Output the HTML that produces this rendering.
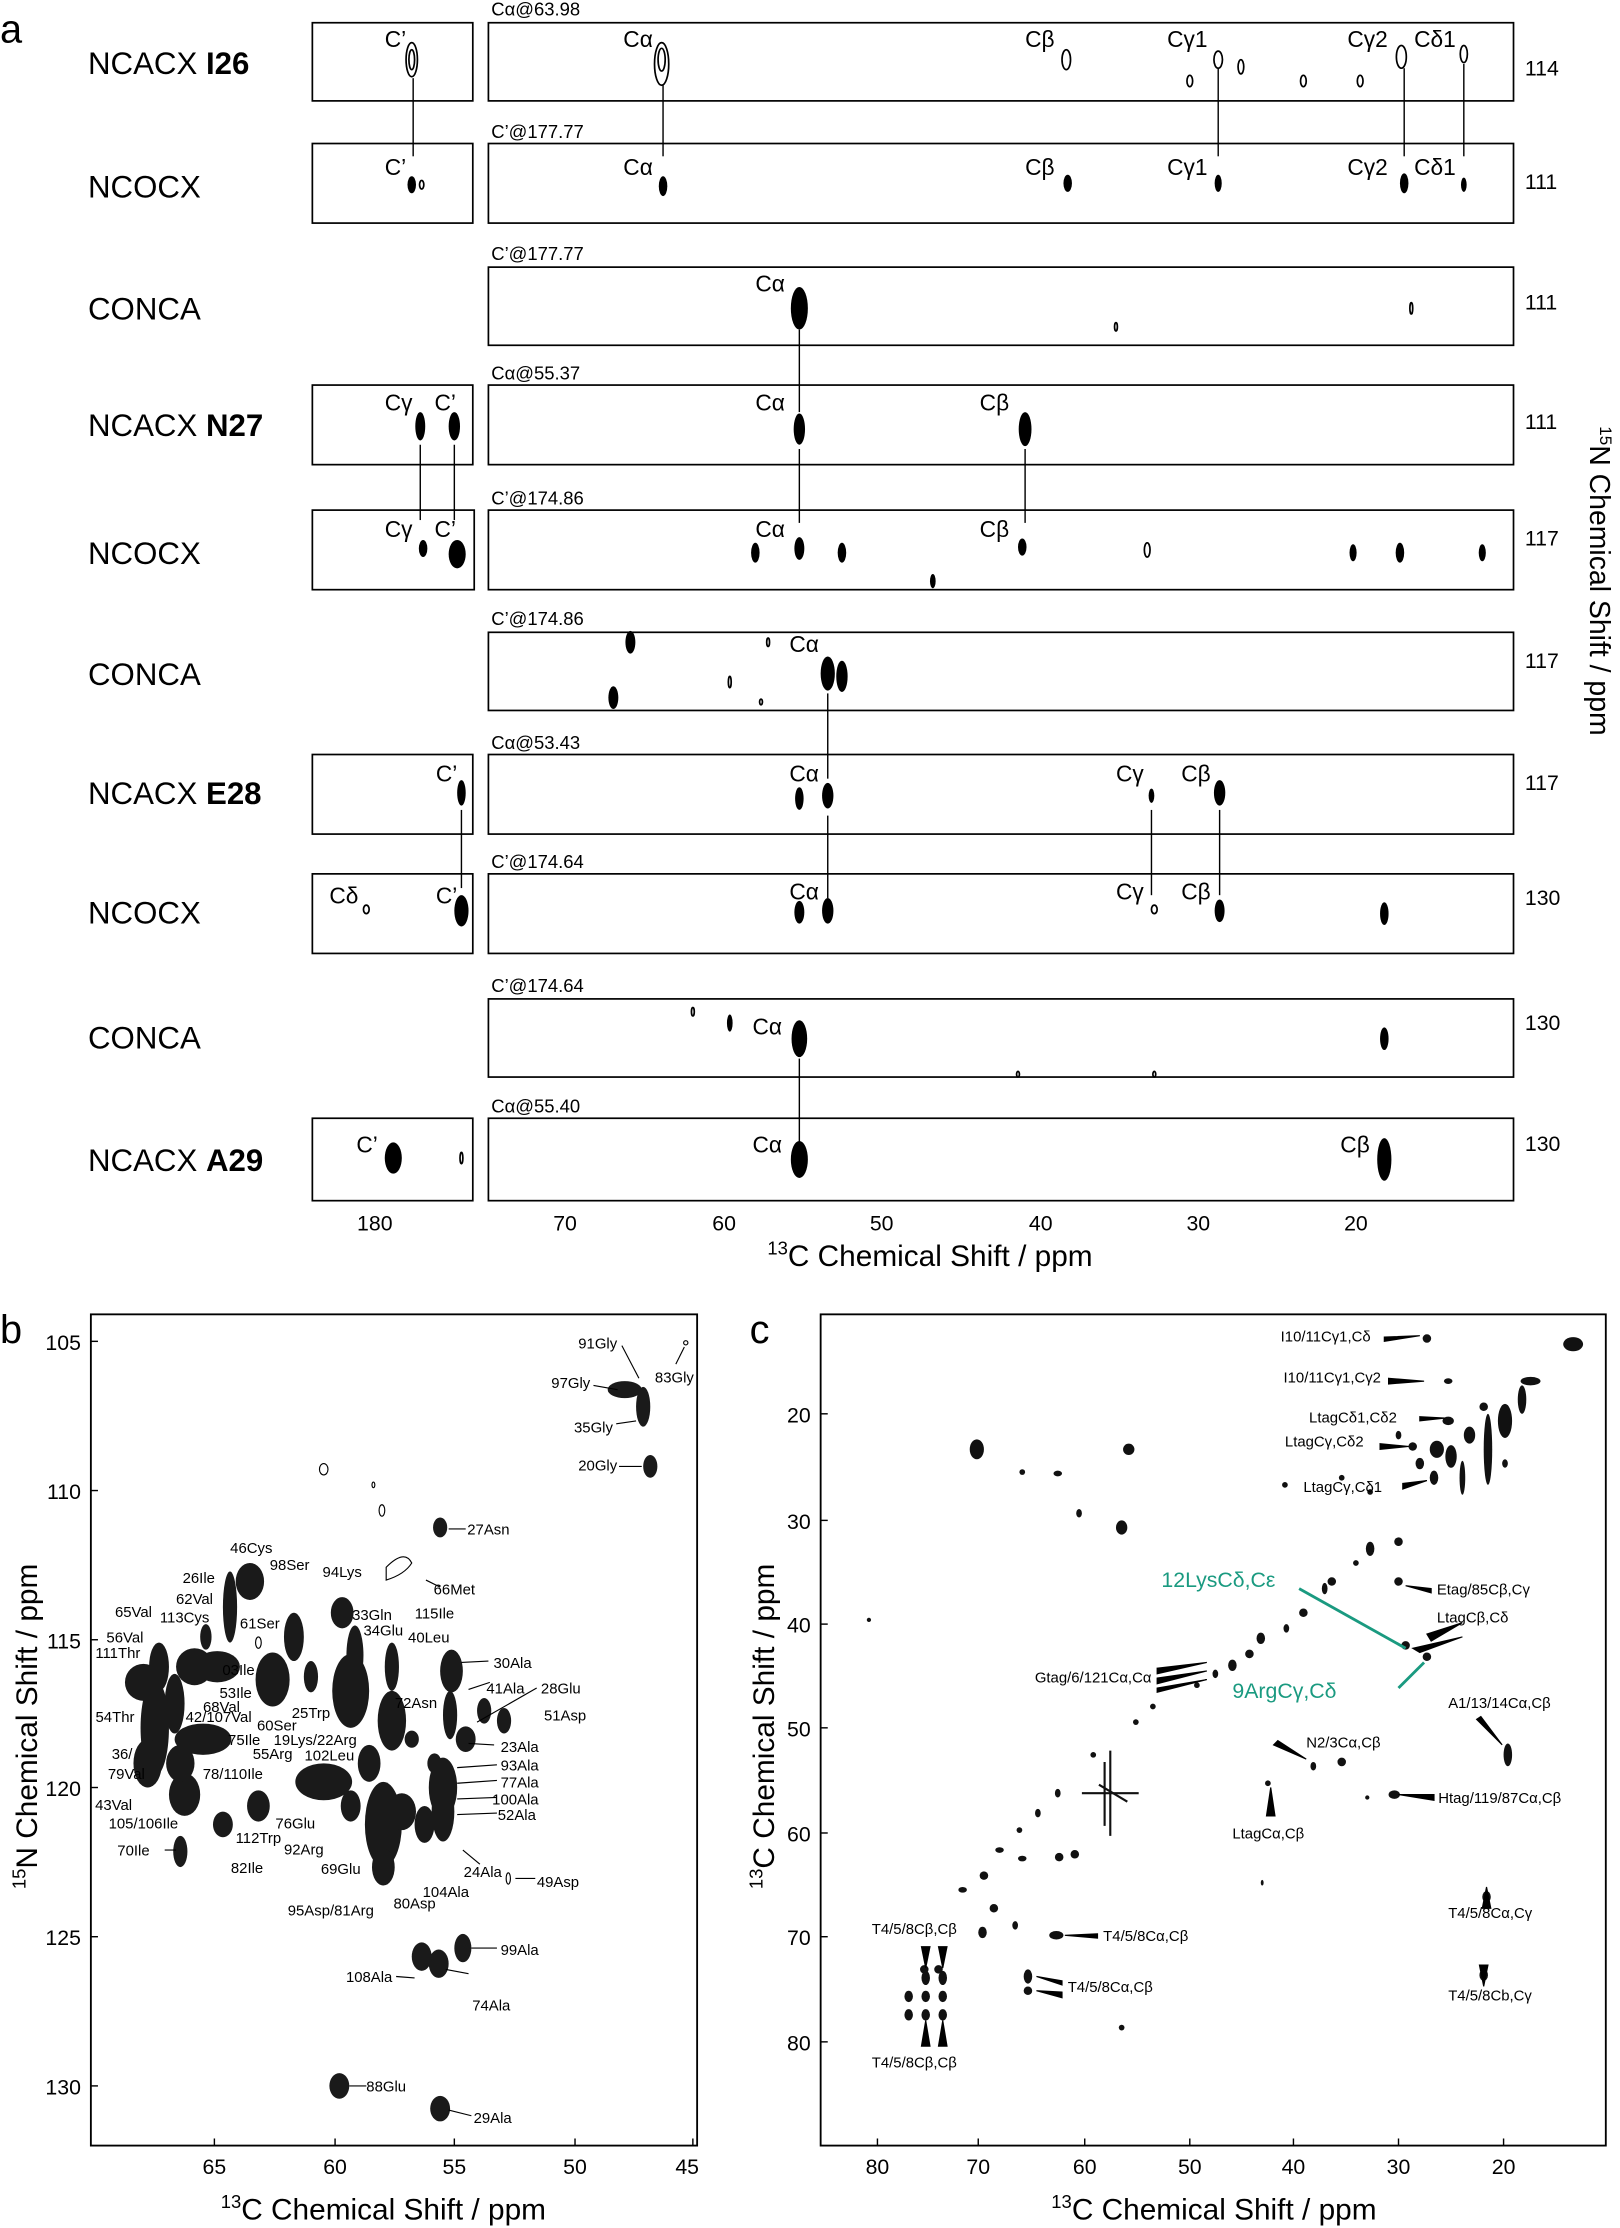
<!DOCTYPE html>
<html><head><meta charset="utf-8"><style>
html,body{margin:0;padding:0;background:#fff}
svg{display:block}
text{font-family:"Liberation Sans",sans-serif;fill:#000}
</style></head><body>
<svg width="1620" height="2228" viewBox="0 0 1141 1568" preserveAspectRatio="none" xmlns="http://www.w3.org/2000/svg">
<rect width="1141" height="1568" fill="#fff"/>
<!-- PANEL A -->
<text x="0" y="30" font-size="28">a</text>
<g font-size="22">
<text x="62" y="52">NCACX <tspan font-weight="bold">I26</tspan></text>
<text x="62" y="139">NCOCX</text>
<text x="62" y="225">CONCA</text>
<text x="62" y="307">NCACX <tspan font-weight="bold">N27</tspan></text>
<text x="62" y="397">NCOCX</text>
<text x="62" y="482">CONCA</text>
<text x="62" y="566">NCACX <tspan font-weight="bold">E28</tspan></text>
<text x="62" y="650">NCOCX</text>
<text x="62" y="738">CONCA</text>
<text x="62" y="824">NCACX <tspan font-weight="bold">A29</tspan></text>
</g>
<g fill="none" stroke="#000" stroke-width="1.2">
<rect x="220" y="16" width="113" height="55"/><rect x="344" y="16" width="722" height="55"/>
<rect x="220" y="101" width="113" height="56"/><rect x="344" y="101" width="722" height="56"/>
<rect x="344" y="188" width="722" height="55"/>
<rect x="220" y="271" width="113" height="56"/><rect x="344" y="271" width="722" height="56"/>
<rect x="220" y="359" width="114" height="56"/><rect x="344" y="359" width="722" height="56"/>
<rect x="344" y="445" width="722" height="55"/>
<rect x="220" y="531" width="113" height="56"/><rect x="344" y="531" width="722" height="56"/>
<rect x="220" y="615" width="113" height="56"/><rect x="344" y="615" width="722" height="56"/>
<rect x="344" y="703" width="722" height="55"/>
<rect x="220" y="787" width="113" height="58"/><rect x="344" y="787" width="722" height="58"/>
</g>
<g font-size="13">
<text x="346" y="11">Cα@63.98</text><text x="346" y="97">C’@177.77</text><text x="346" y="183">C’@177.77</text>
<text x="346" y="267">Cα@55.37</text><text x="346" y="355">C’@174.86</text><text x="346" y="440">C’@174.86</text>
<text x="346" y="527">Cα@53.43</text><text x="346" y="611">C’@174.64</text><text x="346" y="698">C’@174.64</text>
<text x="346" y="783">Cα@55.40</text>
</g>
<g font-size="15">
<text x="1074" y="53">114</text><text x="1074" y="133">111</text><text x="1074" y="218">111</text>
<text x="1074" y="302">111</text><text x="1074" y="384">117</text><text x="1074" y="470">117</text>
<text x="1074" y="556">117</text><text x="1074" y="637">130</text><text x="1074" y="725">130</text>
<text x="1074" y="810">130</text>
</g>
<text transform="translate(1120,300) rotate(90)" font-size="20"><tspan font-size="12" dy="-7">15</tspan><tspan dy="7">N Chemical Shift / ppm</tspan></text>
<g font-size="16">
<text x="271" y="33">C’</text><text x="439" y="33">Cα</text><text x="722" y="33">Cβ</text><text x="822" y="33">Cγ1</text><text x="949" y="33">Cγ2</text><text x="996" y="33">Cδ1</text>
<text x="271" y="123">C’</text><text x="439" y="123">Cα</text><text x="722" y="123">Cβ</text><text x="822" y="123">Cγ1</text><text x="949" y="123">Cγ2</text><text x="996" y="123">Cδ1</text>
<text x="532" y="205">Cα</text>
<text x="271" y="289">Cγ</text><text x="306" y="289">C’</text><text x="532" y="289">Cα</text><text x="690" y="289">Cβ</text>
<text x="271" y="378">Cγ</text><text x="306" y="378">C’</text><text x="532" y="378">Cα</text><text x="690" y="378">Cβ</text>
<text x="556" y="459">Cα</text>
<text x="307" y="550">C’</text><text x="556" y="550">Cα</text><text x="786" y="550">Cγ</text><text x="832" y="550">Cβ</text>
<text x="232" y="636">Cδ</text><text x="307" y="636">C’</text><text x="556" y="633">Cα</text><text x="786" y="633">Cγ</text><text x="832" y="633">Cβ</text>
<text x="530" y="728">Cα</text>
<text x="251" y="811">C’</text><text x="530" y="811">Cα</text><text x="944" y="811">Cβ</text>
</g>
<g stroke="#000" stroke-width="1">
<line x1="291" y1="55" x2="291" y2="110"/><line x1="467" y1="60" x2="467" y2="110"/>
<line x1="858" y1="48" x2="858" y2="110"/><line x1="989" y1="48" x2="989" y2="110"/><line x1="1031" y1="45" x2="1031" y2="110"/>
<line x1="563" y1="232" x2="563" y2="290"/>
<line x1="296" y1="313" x2="296" y2="366"/><line x1="320" y1="313" x2="320" y2="366"/>
<line x1="563" y1="316" x2="563" y2="368"/><line x1="722" y1="316" x2="722" y2="368"/>
<line x1="583" y1="488" x2="583" y2="548"/>
<line x1="325" y1="570" x2="325" y2="625"/><line x1="583" y1="574" x2="583" y2="632"/>
<line x1="811" y1="570" x2="811" y2="630"/><line x1="859" y1="570" x2="859" y2="630"/>
<line x1="563" y1="745" x2="563" y2="810"/>
</g>
<g fill="none" stroke="#000" stroke-width="1.2">
<ellipse cx="290" cy="42" rx="4" ry="12"/><ellipse cx="290" cy="42" rx="2" ry="7"/>
<ellipse cx="466" cy="45" rx="5" ry="15"/><ellipse cx="466" cy="42" rx="2.5" ry="8"/>
<ellipse cx="751" cy="42" rx="3" ry="7"/><ellipse cx="858" cy="42" rx="3" ry="6"/><ellipse cx="838" cy="57" rx="2" ry="4"/>
<ellipse cx="874" cy="47" rx="2" ry="5"/><ellipse cx="918" cy="57" rx="2" ry="4"/><ellipse cx="958" cy="57" rx="2" ry="4"/>
<ellipse cx="987" cy="40" rx="3.5" ry="8"/><ellipse cx="1031" cy="38" rx="2.5" ry="6"/>
<ellipse cx="297" cy="130" rx="1.5" ry="3"/>
<ellipse cx="786" cy="230" rx="1" ry="3"/><ellipse cx="994" cy="217" rx="1" ry="4"/>
<ellipse cx="808" cy="387" rx="2" ry="5"/><ellipse cx="541" cy="452" rx="1" ry="3"/><ellipse cx="514" cy="480" rx="1" ry="4"/><ellipse cx="536" cy="494" rx="1" ry="2"/>
<ellipse cx="258" cy="640" rx="2" ry="3"/><ellipse cx="813" cy="640" rx="2" ry="3"/><ellipse cx="488" cy="712" rx="1" ry="3"/>
<ellipse cx="325" cy="815" rx="1" ry="4"/><ellipse cx="717" cy="756" rx="1" ry="2"/><ellipse cx="813" cy="756" rx="1" ry="2"/>
</g>
<g fill="#000">
<ellipse cx="290" cy="130" rx="3" ry="6"/><ellipse cx="467" cy="131" rx="3" ry="7"/><ellipse cx="752" cy="129" rx="3" ry="6"/>
<ellipse cx="858" cy="129" rx="2.5" ry="6"/><ellipse cx="989" cy="129" rx="3" ry="7"/><ellipse cx="1031" cy="130" rx="2" ry="5"/>
<ellipse cx="563" cy="217" rx="6" ry="15"/>
<ellipse cx="296" cy="300" rx="3.5" ry="10"/><ellipse cx="320" cy="300" rx="4" ry="10"/>
<ellipse cx="563" cy="302" rx="4" ry="11"/><ellipse cx="722" cy="302" rx="4.5" ry="12"/>
<ellipse cx="298" cy="386" rx="3" ry="6"/><ellipse cx="322" cy="390" rx="6" ry="10"/>
<ellipse cx="532" cy="389" rx="3" ry="7"/><ellipse cx="563" cy="386" rx="3.5" ry="8"/><ellipse cx="593" cy="389" rx="3" ry="7"/>
<ellipse cx="657" cy="409" rx="2" ry="5"/><ellipse cx="720" cy="385" rx="3" ry="6"/>
<ellipse cx="953" cy="389" rx="2.5" ry="6"/><ellipse cx="986" cy="389" rx="3" ry="7"/><ellipse cx="1044" cy="389" rx="2.5" ry="6"/>
<ellipse cx="444" cy="452" rx="3.5" ry="8"/><ellipse cx="432" cy="491" rx="3.5" ry="8"/>
<ellipse cx="583" cy="474" rx="5" ry="12"/><ellipse cx="593" cy="476" rx="4" ry="11"/>
<ellipse cx="325" cy="558" rx="3" ry="9"/><ellipse cx="563" cy="562" rx="3" ry="8"/><ellipse cx="583" cy="560" rx="4" ry="9"/>
<ellipse cx="811" cy="560" rx="2" ry="5"/><ellipse cx="859" cy="558" rx="4" ry="9"/>
<ellipse cx="325" cy="641" rx="5" ry="11"/><ellipse cx="563" cy="642" rx="3.5" ry="8"/><ellipse cx="583" cy="641" rx="4" ry="9"/>
<ellipse cx="859" cy="641" rx="3.5" ry="8"/><ellipse cx="975" cy="643" rx="3" ry="8"/>
<ellipse cx="514" cy="720" rx="2" ry="6"/><ellipse cx="563" cy="731" rx="5.5" ry="13"/><ellipse cx="975" cy="731" rx="3" ry="8"/>
<ellipse cx="277" cy="815" rx="6" ry="11"/><ellipse cx="563" cy="816" rx="6" ry="13"/><ellipse cx="975" cy="816" rx="5" ry="15"/>
</g>
<g font-size="15"><text x="264" y="866" text-anchor="middle">180</text>
<text x="398" y="866" text-anchor="middle">70</text><text x="510" y="866" text-anchor="middle">60</text><text x="621" y="866" text-anchor="middle">50</text>
<text x="733" y="866" text-anchor="middle">40</text><text x="844" y="866" text-anchor="middle">30</text><text x="955" y="866" text-anchor="middle">20</text></g>
<text x="655" y="891" font-size="21" text-anchor="middle"><tspan font-size="13" dy="-8">13</tspan><tspan dy="8">C Chemical Shift / ppm</tspan></text>

<!-- PANEL B -->
<text x="0" y="945" font-size="28">b</text>
<rect x="64" y="925" width="427" height="585" fill="none" stroke="#000" stroke-width="1.3"/>
<g stroke="#000" stroke-width="1"><line x1="151" y1="1510" x2="151" y2="1505"/><line x1="236" y1="1510" x2="236" y2="1505"/><line x1="320" y1="1510" x2="320" y2="1505"/><line x1="405" y1="1510" x2="405" y2="1505"/><line x1="488" y1="1510" x2="488" y2="1505"/>
<line x1="64" y1="944" x2="69" y2="944"/><line x1="64" y1="1049" x2="69" y2="1049"/><line x1="64" y1="1154" x2="69" y2="1154"/><line x1="64" y1="1258" x2="69" y2="1258"/><line x1="64" y1="1363" x2="69" y2="1363"/><line x1="64" y1="1468" x2="69" y2="1468"/></g>
<g font-size="15"><text x="151" y="1530" text-anchor="middle">65</text><text x="236" y="1530" text-anchor="middle">60</text><text x="320" y="1530" text-anchor="middle">55</text><text x="405" y="1530" text-anchor="middle">50</text><text x="484" y="1530" text-anchor="middle">45</text>
<text x="57" y="950" text-anchor="end">105</text><text x="57" y="1055" text-anchor="end">110</text><text x="57" y="1160" text-anchor="end">115</text><text x="57" y="1264" text-anchor="end">120</text><text x="57" y="1369" text-anchor="end">125</text><text x="57" y="1474" text-anchor="end">130</text></g>
<text x="270" y="1562" font-size="21" text-anchor="middle"><tspan font-size="13" dy="-8">13</tspan><tspan dy="8">C Chemical Shift / ppm</tspan></text>
<text transform="translate(26,1215) rotate(-90)" font-size="21" text-anchor="middle"><tspan font-size="13" dy="-8">15</tspan><tspan dy="8">N Chemical Shift / ppm</tspan></text>
<g fill="#1a1a1a">
<ellipse cx="440" cy="978" rx="12" ry="6"/><ellipse cx="453" cy="990" rx="5" ry="14"/>
<ellipse cx="458" cy="1032" rx="5" ry="8"/><ellipse cx="310" cy="1075" rx="5" ry="7"/>
<ellipse cx="101" cy="1184" rx="13" ry="13"/><ellipse cx="109" cy="1216" rx="10" ry="34"/><ellipse cx="112" cy="1173" rx="7" ry="17"/>
<ellipse cx="104" cy="1241" rx="10" ry="17"/><ellipse cx="130" cy="1263" rx="11" ry="15"/><ellipse cx="127" cy="1241" rx="10" ry="13"/>
<ellipse cx="143" cy="1224" rx="20" ry="11"/><ellipse cx="123" cy="1199" rx="7" ry="21"/><ellipse cx="137" cy="1173" rx="13" ry="13"/>
<ellipse cx="153" cy="1173" rx="16" ry="11"/><ellipse cx="145" cy="1152" rx="4" ry="9"/><ellipse cx="162" cy="1131" rx="5" ry="25"/>
<ellipse cx="176" cy="1113" rx="10" ry="13"/><ellipse cx="192" cy="1182" rx="12" ry="19"/><ellipse cx="207" cy="1152" rx="7" ry="17"/>
<ellipse cx="219" cy="1180" rx="5" ry="11"/><ellipse cx="182" cy="1271" rx="8" ry="11"/><ellipse cx="157" cy="1284" rx="7" ry="9"/>
<ellipse cx="127" cy="1303" rx="5" ry="11"/><ellipse cx="241" cy="1135" rx="8" ry="11"/><ellipse cx="247" cy="1190" rx="13" ry="26"/>
<ellipse cx="250" cy="1165" rx="6" ry="21"/><ellipse cx="228" cy="1254" rx="20" ry="13"/><ellipse cx="247" cy="1271" rx="7" ry="11"/>
<ellipse cx="260" cy="1241" rx="8" ry="13"/><ellipse cx="270" cy="1284" rx="13" ry="30"/><ellipse cx="270" cy="1314" rx="8" ry="13"/>
<ellipse cx="276" cy="1211" rx="10" ry="21"/><ellipse cx="290" cy="1224" rx="5" ry="6"/><ellipse cx="306" cy="1241" rx="5" ry="7"/>
<ellipse cx="283" cy="1275" rx="10" ry="13"/><ellipse cx="299" cy="1284" rx="7" ry="13"/><ellipse cx="312" cy="1275" rx="8" ry="21"/>
<ellipse cx="318" cy="1176" rx="8" ry="15"/><ellipse cx="317" cy="1207" rx="5" ry="17"/><ellipse cx="328" cy="1224" rx="7" ry="9"/>
<ellipse cx="312" cy="1258" rx="10" ry="21"/><ellipse cx="341" cy="1204" rx="5" ry="9"/><ellipse cx="355" cy="1211" rx="5" ry="9"/>
<ellipse cx="276" cy="1173" rx="5" ry="17"/><ellipse cx="326" cy="1371" rx="6" ry="10"/><ellipse cx="297" cy="1377" rx="7" ry="10"/>
<ellipse cx="309" cy="1382" rx="7" ry="10"/><ellipse cx="239" cy="1468" rx="7" ry="9"/><ellipse cx="310" cy="1484" rx="7" ry="9"/>
</g>
<g fill="none" stroke="#000" stroke-width="0.8"><ellipse cx="228" cy="1034" rx="3" ry="4"/><ellipse cx="263" cy="1045" rx="1" ry="2"/><ellipse cx="269" cy="1063" rx="2" ry="4"/>
<path d="M272 1103 Q285 1090 290 1100 Q285 1108 272 1112Z"/><ellipse cx="358" cy="1322" rx="1.5" ry="4"/><circle cx="483" cy="945" r="1.5"/><ellipse cx="182" cy="1156" rx="2" ry="4"/></g>
<g stroke="#000" stroke-width="0.8">
<line x1="438" y1="947" x2="450" y2="970"/><line x1="418" y1="975" x2="435" y2="978"/><line x1="434" y1="1002" x2="448" y2="1000"/><line x1="436" y1="1032" x2="452" y2="1032"/>
<line x1="482" y1="948" x2="476" y2="960"/><line x1="316" y1="1076" x2="328" y2="1076"/><line x1="300" y1="1112" x2="310" y2="1117"/>
<line x1="325" y1="1170" x2="344" y2="1169"/><line x1="330" y1="1189" x2="345" y2="1184"/><line x1="336" y1="1212" x2="378" y2="1188"/>
<line x1="330" y1="1227" x2="348" y2="1228"/><line x1="322" y1="1244" x2="350" y2="1242"/><line x1="322" y1="1255" x2="350" y2="1253"/>
<line x1="322" y1="1266" x2="350" y2="1265"/><line x1="322" y1="1277" x2="350" y2="1276"/><line x1="326" y1="1302" x2="338" y2="1312"/>
<line x1="363" y1="1322" x2="377" y2="1322"/><line x1="332" y1="1371" x2="350" y2="1371"/><line x1="279" y1="1391" x2="292" y2="1392"/>
<line x1="314" y1="1386" x2="330" y2="1389"/><line x1="246" y1="1468" x2="258" y2="1468"/><line x1="316" y1="1485" x2="332" y2="1489"/>
<line x1="116" y1="1302" x2="124" y2="1302"/></g>
<g font-size="10.5" text-anchor="middle">
<text x="421" y="949">91Gly</text><text x="402" y="977">97Gly</text><text x="475" y="973">83Gly</text><text x="418" y="1008">35Gly</text><text x="421" y="1035">20Gly</text>
<text x="344" y="1080">27Asn</text><text x="320" y="1122">66Met</text><text x="177" y="1093">46Cys</text><text x="140" y="1114">26Ile</text><text x="204" y="1105">98Ser</text>
<text x="241" y="1110">94Lys</text><text x="137" y="1129">62Val</text><text x="94" y="1138">65Val</text><text x="130" y="1142">113Cys</text><text x="183" y="1146">61Ser</text>
<text x="88" y="1156">56Val</text><text x="83" y="1167">111Thr</text><text x="306" y="1139">115Ile</text><text x="262" y="1140">33Gln</text><text x="270" y="1151">34Glu</text>
<text x="302" y="1156">40Leu</text><text x="361" y="1174">30Ala</text><text x="356" y="1192">41Ala</text><text x="395" y="1192">28Glu</text><text x="398" y="1211">51Asp</text>
<text x="293" y="1202">72Asn</text><text x="166" y="1195">53Ile</text><text x="156" y="1205">68Val</text><text x="168" y="1179">03Ile</text><text x="195" y="1218">60Ser</text>
<text x="219" y="1209">25Trp</text><text x="81" y="1212">54Thr</text><text x="154" y="1212">42/107Val</text><text x="222" y="1228">19Lys/22Arg</text><text x="366" y="1233">23Ala</text>
<text x="172" y="1228">75Ile</text><text x="192" y="1238">55Arg</text><text x="232" y="1239">102Leu</text><text x="86" y="1238">36/</text><text x="89" y="1252">79Val</text>
<text x="164" y="1252">78/110Ile</text><text x="366" y="1246">93Ala</text><text x="366" y="1258">77Ala</text><text x="363" y="1270">100Ala</text><text x="364" y="1281">52Ala</text>
<text x="80" y="1274">43Val</text><text x="101" y="1287">105/106Ile</text><text x="208" y="1287">76Glu</text><text x="182" y="1297">112Trp</text><text x="214" y="1305">92Arg</text>
<text x="94" y="1306">70Ile</text><text x="174" y="1318">82Ile</text><text x="240" y="1319">69Glu</text><text x="340" y="1321">24Ala</text><text x="393" y="1328">49Asp</text>
<text x="314" y="1335">104Ala</text><text x="292" y="1343">80Asp</text><text x="233" y="1348">95Asp/81Arg</text><text x="366" y="1376">99Ala</text><text x="260" y="1395">108Ala</text>
<text x="346" y="1415">74Ala</text><text x="272" y="1472">88Glu</text><text x="347" y="1494">29Ala</text>
</g>

<!-- PANEL C -->
<text x="528" y="945" font-size="28">c</text>
<rect x="578" y="925" width="553" height="585" fill="none" stroke="#000" stroke-width="1.3"/>
<g font-size="15"><text x="618" y="1530" text-anchor="middle">80</text><text x="689" y="1530" text-anchor="middle">70</text><text x="764" y="1530" text-anchor="middle">60</text><text x="838" y="1530" text-anchor="middle">50</text><text x="911" y="1530" text-anchor="middle">40</text><text x="985" y="1530" text-anchor="middle">30</text><text x="1059" y="1530" text-anchor="middle">20</text>
<text x="571" y="1001" text-anchor="end">20</text><text x="571" y="1076" text-anchor="end">30</text><text x="571" y="1149" text-anchor="end">40</text><text x="571" y="1222" text-anchor="end">50</text><text x="571" y="1296" text-anchor="end">60</text><text x="571" y="1369" text-anchor="end">70</text><text x="571" y="1443" text-anchor="end">80</text></g>
<g stroke="#000" stroke-width="1"><line x1="618" y1="1510" x2="618" y2="1505"/><line x1="689" y1="1510" x2="689" y2="1505"/><line x1="764" y1="1510" x2="764" y2="1505"/><line x1="838" y1="1510" x2="838" y2="1505"/><line x1="911" y1="1510" x2="911" y2="1505"/><line x1="985" y1="1510" x2="985" y2="1505"/><line x1="1059" y1="1510" x2="1059" y2="1505"/>
<line x1="578" y1="995" x2="583" y2="995"/><line x1="578" y1="1070" x2="583" y2="1070"/><line x1="578" y1="1143" x2="583" y2="1143"/><line x1="578" y1="1216" x2="583" y2="1216"/><line x1="578" y1="1290" x2="583" y2="1290"/><line x1="578" y1="1363" x2="583" y2="1363"/><line x1="578" y1="1437" x2="583" y2="1437"/></g>
<text x="855" y="1562" font-size="21" text-anchor="middle"><tspan font-size="13" dy="-8">13</tspan><tspan dy="8">C Chemical Shift / ppm</tspan></text>
<text transform="translate(545,1215) rotate(-90)" font-size="21" text-anchor="middle"><tspan font-size="13" dy="-8">13</tspan><tspan dy="8">C Chemical Shift / ppm</tspan></text>
<g fill="#111">
<ellipse cx="1108" cy="946" rx="7" ry="5"/><ellipse cx="1005" cy="942" rx="3" ry="3"/><ellipse cx="1020" cy="972" rx="3" ry="2"/>
<ellipse cx="1078" cy="972" rx="7" ry="3"/><ellipse cx="1072" cy="985" rx="3" ry="10"/><ellipse cx="1060" cy="1000" rx="5" ry="12"/>
<ellipse cx="1048" cy="1020" rx="3" ry="25"/><ellipse cx="1035" cy="1010" rx="4" ry="6"/><ellipse cx="1022" cy="1025" rx="4" ry="8"/>
<ellipse cx="1030" cy="1040" rx="2" ry="12"/><ellipse cx="1012" cy="1020" rx="5" ry="6"/><ellipse cx="1000" cy="1030" rx="3" ry="4"/>
<ellipse cx="1010" cy="1040" rx="3" ry="5"/><ellipse cx="995" cy="1018" rx="3" ry="3"/><ellipse cx="985" cy="1010" rx="2" ry="3"/>
<ellipse cx="1020" cy="1000" rx="4" ry="3"/><ellipse cx="1045" cy="990" rx="3" ry="3"/><ellipse cx="1060" cy="1030" rx="2" ry="3"/>
<ellipse cx="965" cy="1050" rx="2" ry="2"/><ellipse cx="945" cy="1040" rx="2" ry="2"/><ellipse cx="905" cy="1045" rx="2" ry="2"/>
<ellipse cx="985" cy="1085" rx="3" ry="3"/><ellipse cx="965" cy="1090" rx="3" ry="5"/><ellipse cx="955" cy="1100" rx="2" ry="2"/>
<ellipse cx="938" cy="1113" rx="3" ry="3"/><ellipse cx="933" cy="1118" rx="2" ry="4"/><ellipse cx="918" cy="1135" rx="3" ry="3"/>
<ellipse cx="906" cy="1146" rx="2" ry="3"/><ellipse cx="888" cy="1153" rx="3" ry="4"/><ellipse cx="880" cy="1164" rx="3" ry="3"/>
<ellipse cx="868" cy="1172" rx="3" ry="4"/><ellipse cx="856" cy="1178" rx="2" ry="3"/><ellipse cx="843" cy="1186" rx="2" ry="2"/>
<ellipse cx="812" cy="1201" rx="2" ry="2"/><ellipse cx="800" cy="1212" rx="2" ry="2"/><ellipse cx="770" cy="1235" rx="2" ry="2"/>
<ellipse cx="745" cy="1262" rx="2" ry="3"/><ellipse cx="731" cy="1276" rx="2" ry="3"/><ellipse cx="718" cy="1288" rx="2" ry="2"/>
<ellipse cx="704" cy="1302" rx="3" ry="2"/><ellipse cx="693" cy="1320" rx="3" ry="3"/><ellipse cx="678" cy="1330" rx="3" ry="2"/>
<ellipse cx="700" cy="1343" rx="3" ry="3"/><ellipse cx="692" cy="1360" rx="3" ry="4"/><ellipse cx="715" cy="1355" rx="2" ry="3"/>
<ellipse cx="688" cy="1020" rx="5" ry="7"/><ellipse cx="745" cy="1037" rx="3" ry="2"/><ellipse cx="720" cy="1036" rx="2" ry="2"/>
<ellipse cx="795" cy="1020" rx="4" ry="4"/><ellipse cx="790" cy="1075" rx="4" ry="5"/><ellipse cx="760" cy="1065" rx="2" ry="3"/>
<ellipse cx="757" cy="1305" rx="3" ry="3"/><ellipse cx="746" cy="1307" rx="3" ry="3"/><ellipse cx="720" cy="1308" rx="3" ry="2"/>
<ellipse cx="744" cy="1362" rx="5" ry="3"/><ellipse cx="724" cy="1391" rx="3" ry="5"/><ellipse cx="724" cy="1401" rx="3" ry="3"/>
<ellipse cx="651" cy="1386" rx="3" ry="3"/><ellipse cx="661" cy="1386" rx="3" ry="3"/><ellipse cx="652" cy="1392" rx="3" ry="5"/><ellipse cx="664" cy="1392" rx="3" ry="5"/>
<ellipse cx="640" cy="1405" rx="3" ry="4"/><ellipse cx="652" cy="1405" rx="3" ry="4"/><ellipse cx="664" cy="1405" rx="3" ry="4"/>
<ellipse cx="640" cy="1418" rx="3" ry="4"/><ellipse cx="652" cy="1418" rx="3" ry="4"/><ellipse cx="664" cy="1418" rx="3" ry="4"/>
<ellipse cx="1047" cy="1335" rx="3" ry="4"/><ellipse cx="1045" cy="1390" rx="3" ry="4"/><ellipse cx="1062" cy="1235" rx="3" ry="8"/>
<ellipse cx="982" cy="1263" rx="4" ry="3"/><ellipse cx="945" cy="1240" rx="3" ry="3"/><ellipse cx="925" cy="1243" rx="2" ry="3"/>
<ellipse cx="893" cy="1255" rx="2" ry="2"/><ellipse cx="889" cy="1325" rx="1" ry="2"/><ellipse cx="790" cy="1427" rx="2" ry="2"/>
<ellipse cx="990" cy="1158" rx="3" ry="3"/><ellipse cx="1005" cy="1166" rx="3" ry="3"/><ellipse cx="985" cy="1113" rx="3" ry="3"/>
<ellipse cx="963" cy="1265" rx="1.5" ry="1.5"/><ellipse cx="612" cy="1140" rx="1.5" ry="1.5"/>
</g>
<g stroke="#111" stroke-width="1.5"><line x1="782" y1="1232" x2="782" y2="1292"/><line x1="762" y1="1262" x2="802" y2="1262"/><line x1="774" y1="1256" x2="794" y2="1268"/><line x1="778" y1="1240" x2="778" y2="1285"/></g>
<g stroke="#000" stroke-width="0.8" fill="#000">
<polygon points="975,941 1000,940 975,944"/><polygon points="978,970 1003,972 978,974"/><polygon points="1000,997 1018,998 1000,1000"/>
<polygon points="972,1016 992,1018 972,1020"/><polygon points="988,1044 1005,1042 988,1048"/><polygon points="1008,1118 990,1116 1008,1121"/>
<polygon points="1005,1150 1030,1142 1008,1155"/><polygon points="995,1160 1030,1152 1000,1163"/>
<polygon points="815,1174 850,1170 815,1178"/><polygon points="815,1181 850,1176 815,1185"/><polygon points="815,1188 850,1182 815,1191"/>
<polygon points="1040,1210 1058,1228 1043,1208"/><polygon points="900,1225 920,1238 897,1228"/>
<polygon points="892,1278 895,1258 898,1278"/><polygon points="1010,1263 985,1263 1010,1267"/>
<polygon points="1044,1343 1047,1328 1050,1343"/><polygon points="1042,1383 1045,1398 1048,1383"/>
<polygon points="649,1370 652,1385 655,1370"/><polygon points="661,1370 664,1385 667,1370"/>
<polygon points="649,1440 652,1422 655,1440"/><polygon points="661,1440 664,1422 667,1440"/>
<polygon points="773,1361 750,1362 773,1364"/><polygon points="748,1394 730,1391 748,1397"/><polygon points="748,1402 730,1401 748,1406"/>
</g>
<g stroke="#1a9a80" stroke-width="2"><line x1="915" y1="1118" x2="990" y2="1160"/><line x1="985" y1="1188" x2="1003" y2="1170"/></g>
<g font-size="10.5">
<text x="902" y="944">I10/11Cγ1,Cδ</text><text x="904" y="973">I10/11Cγ1,Cγ2</text><text x="922" y="1001">LtagCδ1,Cδ2</text>
<text x="905" y="1018">LtagCγ,Cδ2</text><text x="918" y="1050">LtagCγ,Cδ1</text><text x="1012" y="1122">Etag/85Cβ,Cγ</text>
<text x="1012" y="1142">LtagCβ,Cδ</text><text x="811" y="1184" text-anchor="end">Gtag/6/121Cα,Cα</text><text x="1020" y="1202">A1/13/14Cα,Cβ</text>
<text x="920" y="1230">N2/3Cα,Cβ</text><text x="868" y="1294">LtagCα,Cβ</text><text x="1013" y="1269">Htag/119/87Cα,Cβ</text>
<text x="614" y="1361">T4/5/8Cβ,Cβ</text><text x="614" y="1455">T4/5/8Cβ,Cβ</text><text x="777" y="1366">T4/5/8Cα,Cβ</text>
<text x="752" y="1402">T4/5/8Cα,Cβ</text><text x="1020" y="1350">T4/5/8Cα,Cγ</text><text x="1020" y="1408">T4/5/8Cb,Cγ</text>
</g>
<g font-size="15"><text x="818" y="1117" style="fill:#1a9a80">12LysCδ,Cε</text><text x="868" y="1195" style="fill:#1a9a80">9ArgCγ,Cδ</text></g>
</svg>
</body></html>
